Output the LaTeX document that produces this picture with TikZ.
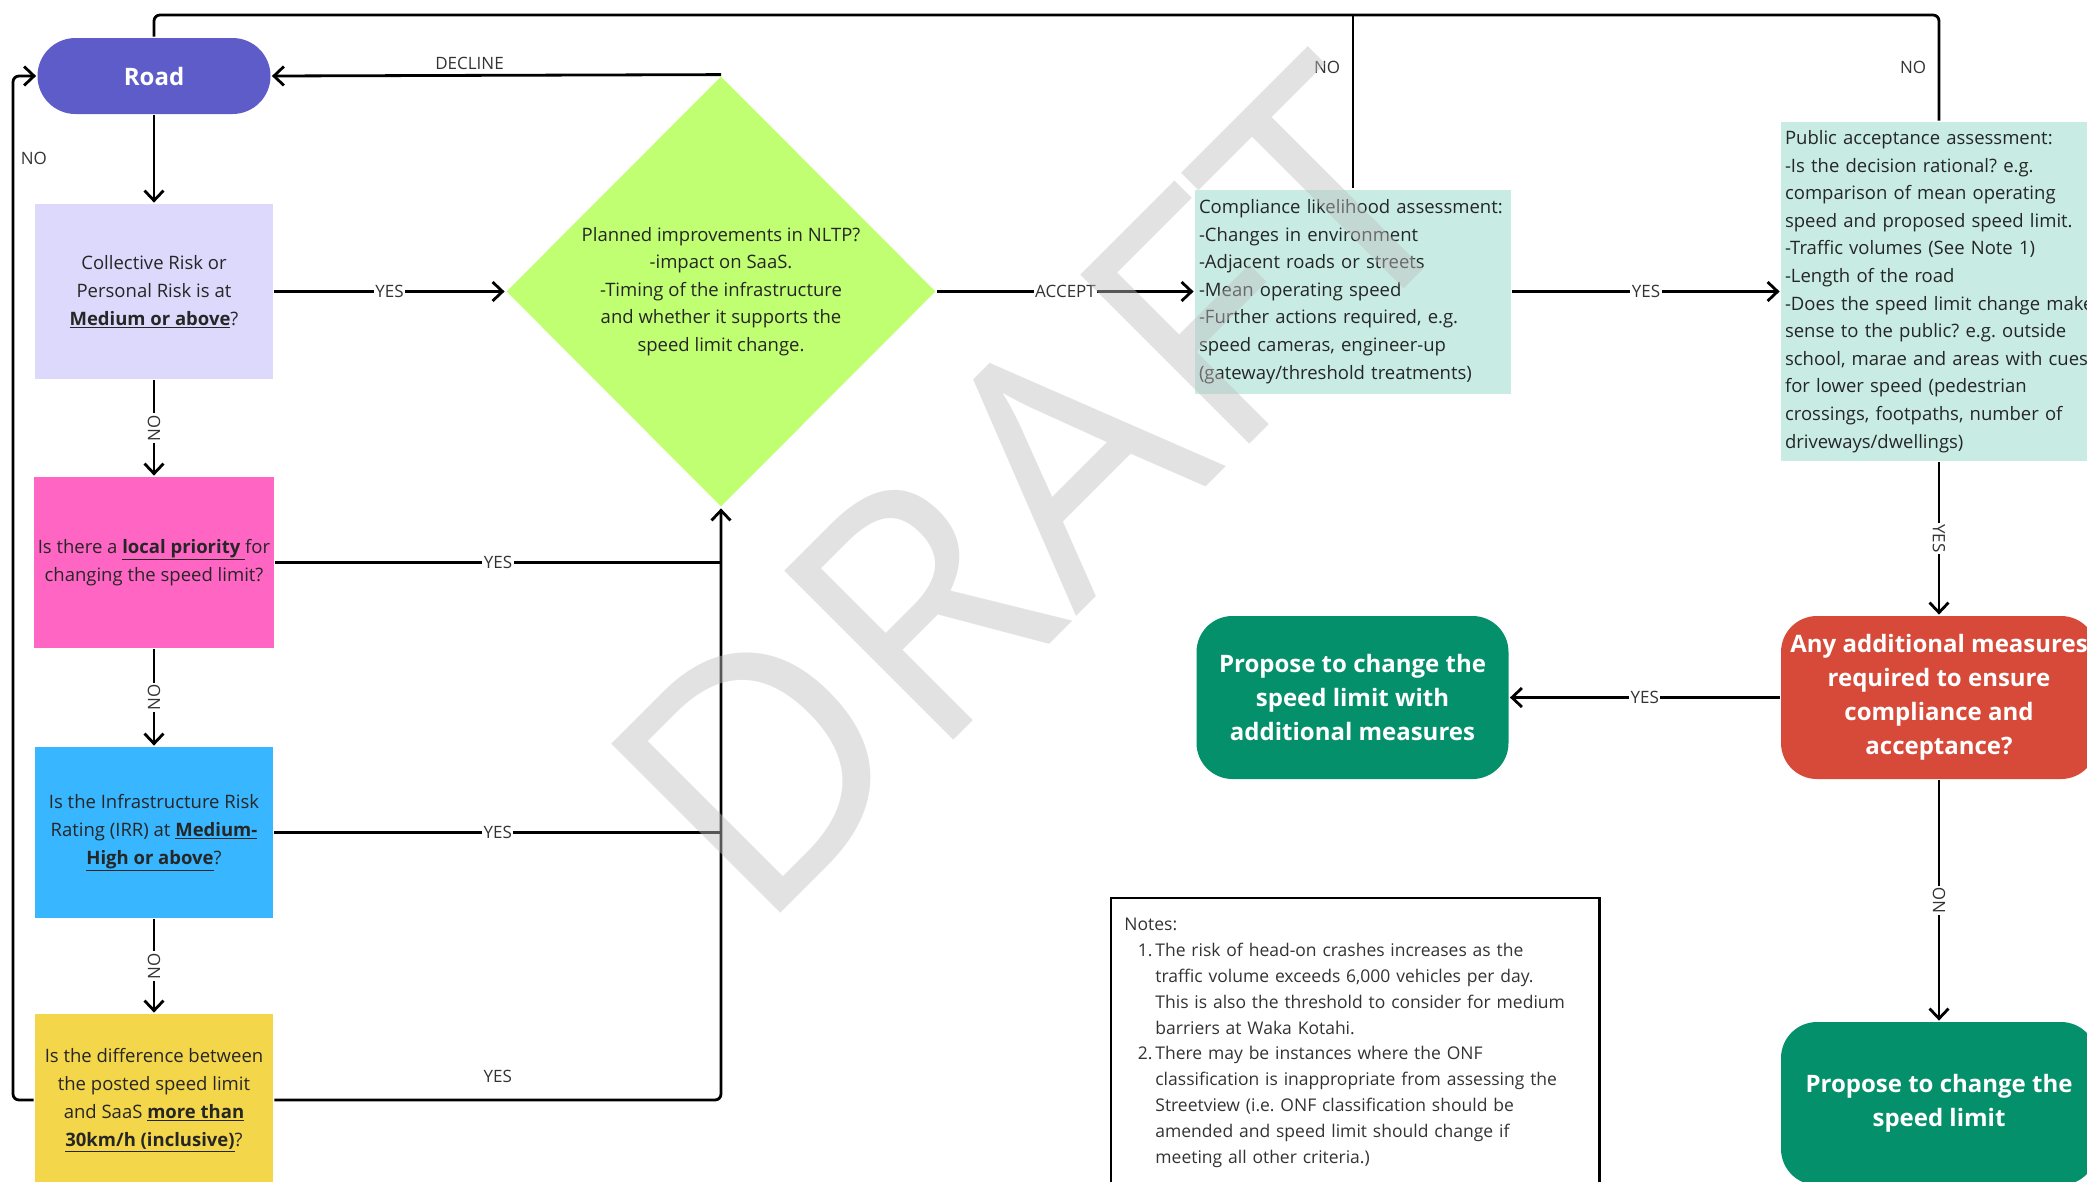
\documentclass[tikz,border=0pt]{standalone}
\usepackage{fontspec}
\setmainfont{Open Sans}
\usetikzlibrary{shapes.geometric,arrows.meta}
\definecolor{roadPurple}{RGB}{94,92,200}
\definecolor{riskLilac}{RGB}{221,217,252}
\definecolor{localPink}{RGB}{255,102,196}
\definecolor{irrBlue}{RGB}{56,182,255}
\definecolor{saasYellow}{RGB}{244,214,74}
\definecolor{nltpLime}{RGB}{193,255,114}
\definecolor{assessMint}{RGB}{200,236,228}
\definecolor{measureRed}{RGB}{215,73,57}
\definecolor{proposeGreen}{RGB}{4,144,106}

\begin{document}
\frenchspacing
\begin{tikzpicture}[x=1pt, y=1pt, line width=2.8pt,
		>={Straight Barb[length=10pt,width=19pt]},
		question/.style={rectangle, minimum width=238pt, minimum height=173pt, align=center, text=black!85, font=\fontsize{18.5}{28}\selectfont},
		assess/.style={rectangle, fill=assessMint, inner xsep=4pt, text width=308pt, align=left, text=black!85, font=\fontsize{18.5}{27.6}\selectfont},
		outcome/.style={rectangle, rounded corners=36pt, minimum width=312pt, minimum height=163pt, align=center, text=white, font=\fontsize{24}{34}\selectfont\bfseries},
		elabel/.style={fill=white, inner sep=1.5pt, text=black!80, font=\fontsize{17}{20}\selectfont},
		plabel/.style={inner sep=1.5pt, text=black!80, font=\fontsize{17}{20}\selectfont}
	]
	\useasboundingbox (0,0) rectangle (2087,-1181);
	\clip (0,0) rectangle (2087,-1181);

	\draw (154,-76) node[outcome, fill=roadPurple, minimum width=233pt, minimum height=76pt, rounded corners=38pt] (road) {Road};
	\draw (154,-291.5) node[question, fill=riskLilac, minimum height=175pt] (risk) {Collective Risk or\\Personal Risk is at\\\underline{\textbf{Medium or above}}?};
	\draw (154,-562.5) node[question, fill=localPink, minimum height=171pt] (local) {Is there a \underline{\textbf{local priority }}for\\changing the speed limit?};
	\draw (154,-832.5) node[question, fill=irrBlue, minimum height=171pt] (irr) {Is the Infrastructure Risk\\Rating (IRR) at \underline{\textbf{Medium-}}\\\underline{\textbf{High or above}}?};
	\draw (154,-1100) node[question, fill=saasYellow, minimum height=172pt] (saas) {Is the difference between\\the posted speed limit\\and SaaS \underline{\textbf{more than}}\\\underline{\textbf{30km/h (inclusive)}}?};
	\draw (721,-291.5) node[diamond, fill=nltpLime, minimum width=430pt, minimum height=431pt, inner sep=0pt, align=center, text=black!85, font=\fontsize{18.5}{27.6}\selectfont] (nltp) {Planned improvements in NLTP?\\-impact on SaaS.\\-Timing of the infrastructure\\and whether it supports the\\speed limit change.};
	\draw (1353,-291.5) node[assess, minimum height=204pt] (comp) {Compliance likelihood assessment:\\-Changes in environment\\-Adjacent roads or streets\\-Mean operating speed\\-Further actions required, e.g.\\speed cameras, engineer-up\\(gateway/threshold treatments)};
	\draw (1939,-291.5) node[assess, minimum height=339pt] (pub) {Public acceptance assessment:\\-Is the decision rational? e.g.\\comparison of mean operating\\speed and proposed speed limit.\\-Traffic volumes (See Note 1)\\-Length of the road\\\mbox{-Does the speed limit change make}\\sense to the public? e.g. outside\\school, marae and areas with cues\\for lower speed (pedestrian\\crossings, footpaths, number of\\driveways/dwellings)};
	\draw (1939,-697.5) node[outcome, fill=measureRed, minimum width=316pt] (extra) {Any additional measures\\required to ensure\\compliance and\\acceptance?};
	\draw (1352.5,-697.5) node[outcome, fill=proposeGreen] (withmeasures) {Propose to change the\\speed limit with\\additional measures};
	\draw (1939,-1103.5) node[outcome, fill=proposeGreen, minimum width=316pt] (propose) {Propose to change the\\speed limit};
	\draw (1111,-898) node[anchor=north west, text width=462pt, inner xsep=12pt, inner ysep=19pt, align=left, text=black!80, font=\fontsize{17.5}{25.8}\selectfont] (notes) {Notes:\\
		\makebox[31pt][r]{1.\hspace{3pt}}The risk of head-on crashes increases as the\\
		\hspace*{31pt}traffic volume exceeds 6,000 vehicles per day.\\
		\hspace*{31pt}This is also the threshold to consider for medium\\
		\hspace*{31pt}barriers at Waka Kotahi.\\
		\makebox[31pt][r]{2.\hspace{3pt}}There may be instances where the ONF\\
		\hspace*{31pt}classification is inappropriate from assessing the\\
		\hspace*{31pt}Streetview (i.e. ONF classification should be\\
		\hspace*{31pt}amended and speed limit should change if\\
		\hspace*{31pt}meeting all other criteria.)};
	\draw (notes.north west) rectangle ([yshift=-320pt]notes.north east);

	\coordinate (topleft) at (154,-15);
	\coordinate (topright) at (1939,-15);
	\coordinate (loopbottom) at (13,-1100);
	\coordinate (looptop) at (13,-76);

	\path[->]
	(road) edge (risk)
	(risk) edge node[elabel, rotate=90] {NO} (local)
	(local) edge node[elabel, rotate=90] {NO} (irr)
	(irr) edge node[elabel, rotate=90] {NO} (saas)
	(risk) edge node[elabel] {YES} (nltp)
	(nltp.north) edge node[plabel, above=3pt, pos=0.56] {DECLINE} (road.east)
	(nltp) edge node[elabel] {ACCEPT} (comp)
	(comp) edge node[elabel] {YES} (pub)
	(pub) edge node[elabel, rotate=-90] {YES} (extra)
	(extra) edge node[elabel] {YES} (withmeasures)
	(extra) edge node[elabel, rotate=90] {NO} (propose)
	;

	\draw (local) -- node[elabel] {YES} (local -| nltp.south);
	\draw (irr) -- node[elabel] {YES} (irr -| nltp.south);
	\draw[->, rounded corners=6pt] (saas) -- node[plabel, above=14pt] {YES} (saas -| nltp.south) -- (nltp.south);
	\draw[->, rounded corners=6pt] (saas.west) -- (loopbottom) -- node[plabel, right=5pt, pos=0.92] {NO} (looptop) -- (road.west);
	\draw[rounded corners=6pt] (road.north) -- (topleft) -- (topright) -- node[plabel, left=10pt] {NO} (pub.north);
	\draw (comp.north) -- node[plabel, left=10pt, pos=0.7] {NO} (comp.north |- topleft);

	\draw (1034,-490) node[rotate=45, text=black!25, text opacity=0.45, font=\fontsize{335}{335}\selectfont] (draft) {DRAFT};
\end{tikzpicture}
\end{document}
